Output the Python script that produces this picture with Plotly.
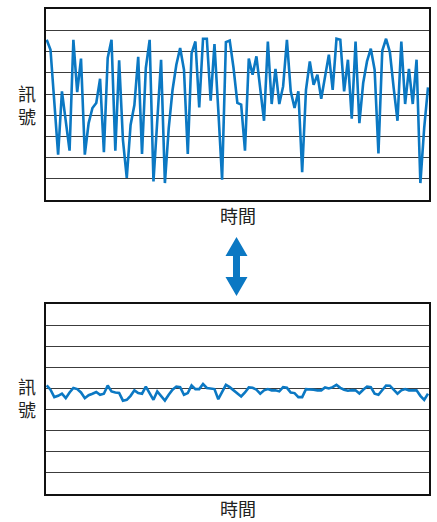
import plotly.graph_objects as go

# ---- data ----
time_index = list(range(101))

signal_noisy = [
    7.56, 7.09, 4.62, 2.14, 5.13, 3.73, 2.33, 7.56, 5.09, 6.67,
    2.14, 3.63, 4.34, 4.58, 5.72, 2.26, 6.70, 7.56, 2.33, 6.59,
    2.83, 1.04, 3.54, 4.48, 6.76, 2.17, 6.23, 7.56, 0.88, 3.74,
    6.62, 0.80, 3.38, 5.19, 6.38, 7.17, 6.15, 2.17, 6.93, 7.48,
    4.37, 7.61, 7.61, 4.69, 7.36, 4.25, 0.96, 7.45, 7.52, 6.23,
    4.58, 4.50, 2.33, 6.67, 5.91, 6.78, 5.28, 3.74, 7.48, 4.53,
    6.19, 4.53, 5.36, 7.56, 5.13, 4.34, 5.13, 1.31, 5.20, 6.54,
    5.44, 5.91, 4.78, 5.91, 6.86, 5.20, 7.61, 7.56, 5.13, 6.62,
    3.84, 7.48, 3.63, 5.52, 6.54, 7.14, 6.15, 2.20, 7.04, 7.61,
    6.98, 5.28, 3.74, 7.48, 4.53, 6.19, 4.53, 6.62, 0.80, 3.40,
    5.31,
]

signal_smooth = [
    5.14, 4.94, 4.59, 4.65, 4.75, 4.54, 4.81, 5.02, 4.97, 4.81,
    4.54, 4.68, 4.75, 4.83, 4.70, 4.75, 5.14, 4.86, 4.81, 4.79,
    4.42, 4.46, 4.65, 4.91, 4.78, 4.75, 5.09, 4.78, 4.46, 4.86,
    4.65, 4.43, 4.70, 4.94, 5.09, 5.06, 4.70, 4.78, 5.14, 4.97,
    4.97, 5.21, 5.02, 4.98, 4.97, 4.49, 4.86, 5.17, 5.06, 4.91,
    4.75, 4.62, 4.81, 5.05, 5.03, 4.94, 4.75, 4.91, 4.97, 4.91,
    4.91, 4.86, 5.06, 5.03, 4.81, 4.78, 4.59, 4.59, 4.97, 4.97,
    4.94, 4.91, 4.91, 5.05, 5.00, 5.06, 5.17, 5.03, 4.94, 4.89,
    4.92, 4.91, 4.76, 4.94, 5.09, 5.06, 4.75, 4.70, 4.94, 5.14,
    5.13, 4.94, 4.75, 4.91, 4.97, 4.91, 4.91, 4.91, 4.65, 4.46,
    4.75,
]

y_label = "訊<br>號"
x_label = "時間"

# ---- styling / layout ----
W, H = 437, 522
BLUE = "#0b78c3"
FONT = "Noto Sans CJK TC"
TEXT = "#222222"


def px(x):
    return x / W


def py(y):
    return 1 - y / H


fig = go.Figure()
fig.add_trace(go.Scatter(x=time_index, y=signal_noisy, mode="lines",
                         line=dict(color=BLUE, width=2.6), xaxis="x", yaxis="y",
                         showlegend=False, hoverinfo="skip"))
fig.add_trace(go.Scatter(x=time_index, y=signal_smooth, mode="lines",
                         line=dict(color=BLUE, width=2.6), xaxis="x2", yaxis="y2",
                         showlegend=False, hoverinfo="skip"))

xdom = [px(45.7), px(429)]
xax = dict(domain=xdom, range=[-0.26, 100.26], showgrid=False, zeroline=False,
           showticklabels=False, ticks="", showline=True, mirror=True,
           linecolor="#111111", linewidth=2)
yax = dict(range=[0, 9], dtick=1, tick0=0, showgrid=True, gridcolor="#3c3c3c",
           gridwidth=1.4, zeroline=False, showticklabels=False, ticks="",
           showline=True, mirror=True, linecolor="#111111", linewidth=2)

fig.update_layout(
    width=W, height=H,
    margin=dict(l=0, r=0, t=0, b=0),
    paper_bgcolor="white", plot_bgcolor="white",
    xaxis=dict(xax, anchor="y"),
    yaxis=dict(yax, domain=[py(200), py(9.3)], anchor="x"),
    xaxis2=dict(xax, anchor="y2"),
    yaxis2=dict(yax, domain=[py(494), py(304)], anchor="x2"),
    font=dict(family=FONT, color=TEXT),
)

for yc in (104, 397):
    fig.add_annotation(x=px(27), y=py(yc), xref="paper", yref="paper",
                       xanchor="center", yanchor="middle", borderpad=0,
                       text=y_label, showarrow=False,
                       font=dict(size=18, family=FONT, color=TEXT))
for yc in (215, 508):
    fig.add_annotation(x=px(237.5), y=py(yc), xref="paper", yref="paper",
                       xanchor="center", yanchor="middle", borderpad=0,
                       text=x_label, showarrow=False,
                       font=dict(size=18, family=FONT, color=TEXT))

# double-headed arrow between the panels
cx = 236.5
pts = [(cx, 237), (cx + 11, 256), (cx + 3.5, 256), (cx + 3.5, 277), (cx + 11, 277),
       (cx, 296), (cx - 11, 277), (cx - 3.5, 277), (cx - 3.5, 256), (cx - 11, 256)]
path = "M " + " L ".join(f"{px(a):.5f},{py(b):.5f}" for a, b in pts) + " Z"
fig.add_shape(type="path", path=path, xref="paper", yref="paper",
              fillcolor=BLUE, line=dict(width=0))

fig.write_html("out.html", config={"displayModeBar": False},
               post_script="document.body.style.margin='0';document.body.style.overflow='hidden';")
